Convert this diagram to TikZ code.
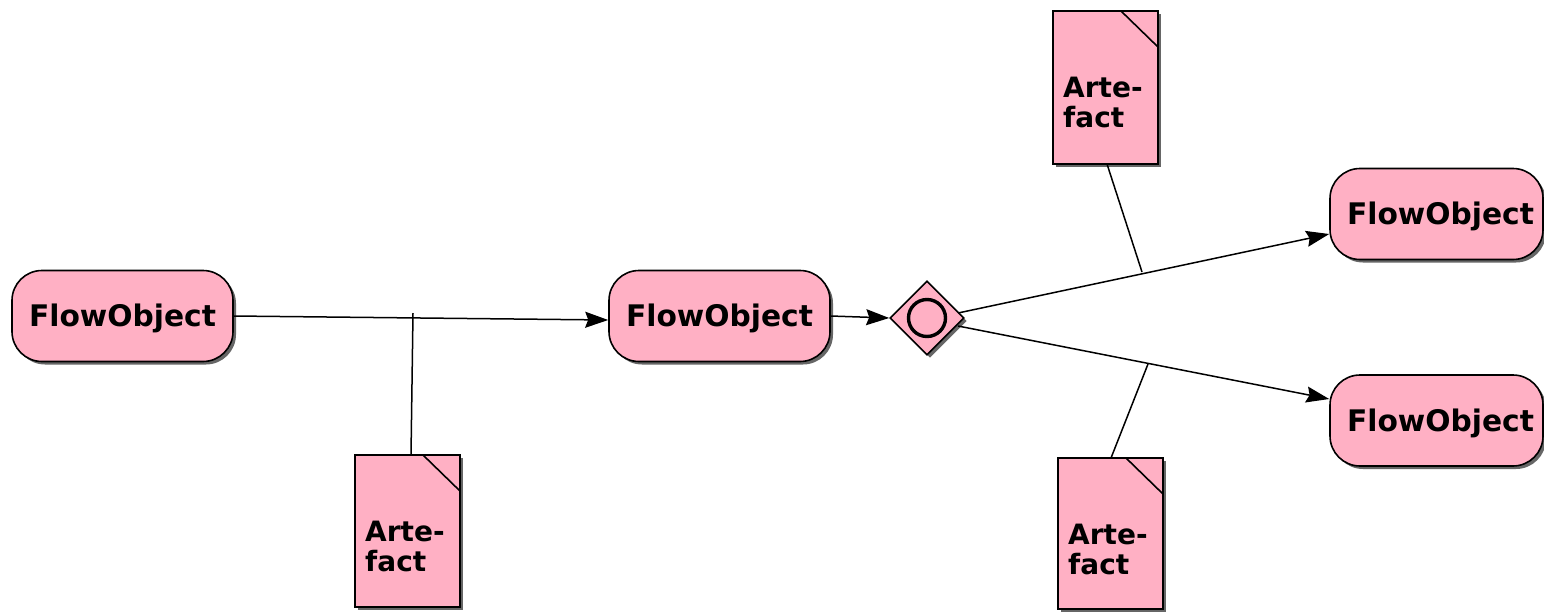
\documentclass[tikz,border=0pt]{standalone}
\usepackage{fontspec}
\setmainfont{DejaVu Sans}
\usetikzlibrary{arrows.meta,shadows,calc,shapes.geometric}
\definecolor{bpmnpink}{RGB}{255,176,196}
\tikzset{
  x=1pt,y=-1pt,
  shadowed/.style={drop shadow={shadow xshift=3pt,shadow yshift=-3pt,fill=black!60,opacity=1}},
  flowobj/.style={draw=black,line width=1.6pt,fill=bpmnpink,rounded corners=30pt,
    minimum width=221pt,minimum height=91pt,inner sep=0pt,
    text height=21.7pt,text depth=0pt,
    font=\fontsize{29.7}{30}\selectfont\bfseries,shadowed},
  artefact/.style={draw=black,line width=1.6pt,fill=bpmnpink,shadowed},
  arttext/.style={font=\fontsize{28}{30}\selectfont\bfseries,align=left,anchor=north west,inner sep=0pt},
  flow/.style={line width=1.5pt,-{Stealth[length=23pt,width=16pt,inset=3pt]}},
  assoc/.style={line width=1.5pt},
}
\begin{document}
\begin{tikzpicture}
\useasboundingbox (0,0) rectangle (1544,611);

% flow objects
\node[flowobj] (fo1) at (122.5,316) {FlowObject};
\node[flowobj] (fo2) at (719.5,316) {FlowObject};
\node[flowobj,minimum width=213pt] (fo3) at (1436.5,214) {\hspace*{8pt}FlowObject};
\node[flowobj,minimum width=213pt] (fo4) at (1436.5,420.5) {\hspace*{8pt}FlowObject};

% gateway
\node[draw=black,line width=1.6pt,fill=bpmnpink,shape=diamond,minimum size=74pt,inner sep=0pt,
  shadowed] (gw) at (927,318) {};
\draw[line width=3.4pt] (gw.center) circle (18.5pt);

% artefacts (page with folded corner)
\draw[artefact] (355,455) rectangle (460,607);
\draw[line width=1.6pt] (423,455) -- (460,491);
\node[arttext] (a1) at (365,521) {Arte-\\fact};
\coordinate (a1top) at (411,455);

\draw[artefact] (1053,11) rectangle (1158,164);
\draw[line width=1.6pt] (1121,11) -- (1158,47);
\node[arttext] (a2) at (1063,77) {Arte-\\fact};
\coordinate (a2bot) at (1107,164);

\draw[artefact] (1058,458) rectangle (1163,609);
\draw[line width=1.6pt] (1126,458) -- (1163,494);
\node[arttext] (a3) at (1068,524) {Arte-\\fact};
\coordinate (a3top) at (1111,458);

% sequence flows
\draw[flow] (fo1.east) -- (fo2.west |- 0,320);
\draw[flow] (fo2.east) -- (gw.west);
\draw[flow] (958,313) -- (fo3.west |- 0,234);
\draw[flow] (958,326) -- (fo4.west |- 0,399);

% associations
\coordinate (m1) at (413,313);
\coordinate (m2) at (1142,272);
\coordinate (m3) at (1148,364);
\draw[assoc] (a1top) -- (m1);
\draw[assoc] (a2bot) -- (m2);
\draw[assoc] (a3top) -- (m3);
\end{tikzpicture}
\end{document}
